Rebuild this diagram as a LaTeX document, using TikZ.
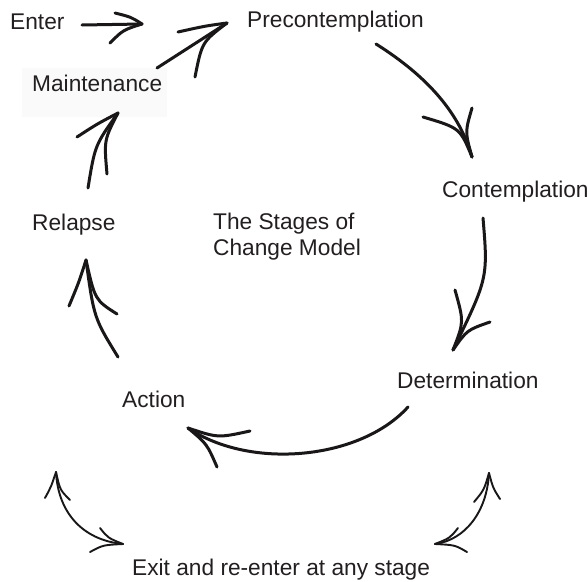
\documentclass[tikz,border=0pt]{standalone}
\usepackage{fontspec}
\setmainfont{Liberation Sans}
\definecolor{ink}{HTML}{231F20}
\definecolor{pen}{HTML}{1A1718}
\definecolor{boxbg}{HTML}{FAFAFA}
\begin{document}
\begin{tikzpicture}[x=1pt,y=-1pt,
  lbl/.style={anchor=base west, inner sep=0pt, text=ink, font=\fontsize{22.7}{26}\selectfont},
  arr/.style={draw=pen, line width=3pt, line cap=round, line join=round},
  thinarr/.style={draw=pen, line width=1.9pt, line cap=round, line join=round}]
\useasboundingbox[fill=white] (0,0) rectangle (588,581);

% background patch behind Maintenance
\fill[boxbg] (22,68) rectangle (167,117);

% labels
\node[lbl] (enter) at (10,29) {Enter};
\node[lbl] (pre) at (247,27) {Precontemplation};
\node[lbl] (maint) at (32,91) {Maintenance};
\node[lbl] (con) at (442,197) {Contemplation};
\node[lbl] (rel) at (32,230) {Relapse};
\node[lbl] (stg1) at (213,229) {The Stages of};
\node[lbl] (stg2) at (213,255) {Change Model};
\node[lbl] (det) at (397,388) {Determination};
\node[lbl] (act) at (122,407) {Action};
\node[lbl] (exit) at (132,575) {Exit and re-enter at any stage};

% arrow end points
\coordinate (a1s) at (82,25);   \coordinate (a1t) at (142,24);
\coordinate (a2s) at (157,68);  \coordinate (a2t) at (227,23);
\coordinate (a3s) at (376,44);  \coordinate (a3t) at (472,157);
\coordinate (a4s) at (483,218); \coordinate (a4t) at (453,350);
\coordinate (a5s) at (408,407); \coordinate (a5t) at (188,428);
\coordinate (a6s) at (118,357); \coordinate (a6t) at (86,260);
\coordinate (a7s) at (88,188);  \coordinate (a7t) at (118,113);
\coordinate (b1a) at (56,472);  \coordinate (b1b) at (123,544);
\coordinate (b2a) at (489,473); \coordinate (b2b) at (435,544);

% Enter -> Precontemplation
\draw[arr] (a1s) -- (a1t);
\draw[arr] (a1t) .. controls (131,17) .. (115,13);
\draw[arr] (a1t) .. controls (123,30) .. (110,43);

% Maintenance -> Precontemplation
\draw[arr] (a2s) .. controls (192,46) .. (a2t);
\draw[arr] (a2t) .. controls (205,26) .. (178,32);
\draw[arr] (a2t) .. controls (202,42) .. (195,77);

% Precontemplation -> Contemplation
\draw[arr] (a3s) .. controls (430,78) and (460,115) .. (a3t);
\draw[arr] (a3t) .. controls (460,128) .. (423,117);
\draw[arr] (a3t) .. controls (465,132) .. (472,108);

% Contemplation -> Determination
\draw[arr] (a4s) .. controls (488,278) .. (a4t);
\draw[arr] (a4t) .. controls (464,322) .. (455,290);
\draw[arr] (a4t) .. controls (467,330) .. (490,322);

% Determination -> Action
\draw[arr] (a5s) .. controls (360,460) and (250,470) .. (a5t);
\draw[arr] (a5t) .. controls (218,438) .. (250,431);
\draw[arr] (a5t) .. controls (207,444) .. (217,467);

% Action -> Relapse
\draw[arr] (a6s) .. controls (94,318) .. (a6t);
\draw[arr] (a6t) .. controls (79,282) .. (69,306);
\draw[arr] (a6t) .. controls (95,300) .. (117,314);

% Relapse -> Maintenance
\draw[arr] (a7s) .. controls (95,145) .. (a7t);
\draw[arr] (a7t) .. controls (97,124) .. (77,137);
\draw[arr] (a7t) .. controls (104,140) .. (107,174);

% bottom-left double arrow
\draw[thinarr] (b1a) .. controls (58,512) and (82,540) .. (b1b);
\draw[thinarr] (b1a) .. controls (51,487) .. (45,498);
\draw[thinarr] (b1a) .. controls (60,490) .. (70,500);
\draw[thinarr] (b1b) .. controls (108,538) .. (100,528);
\draw[thinarr] (b1b) .. controls (103,545) .. (90,552);

% bottom-right double arrow
\draw[thinarr] (b2a) .. controls (487,512) and (465,540) .. (b2b);
\draw[thinarr] (b2a) .. controls (484,490) .. (474,502);
\draw[thinarr] (b2a) .. controls (493,488) .. (500,499);
\draw[thinarr] (b2b) .. controls (450,538) .. (458,528);
\draw[thinarr] (b2b) .. controls (455,545) .. (467,552);
\end{tikzpicture}
\end{document}
